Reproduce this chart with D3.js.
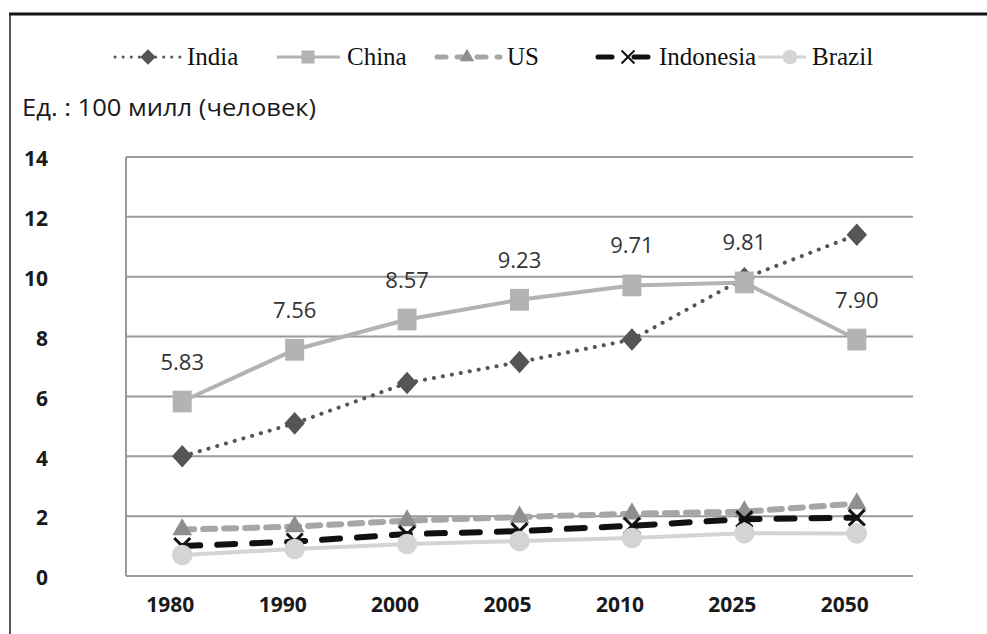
<!DOCTYPE html>
<html>
<head>
<meta charset="utf-8">
<script src="https://cdn.jsdelivr.net/npm/d3@7/dist/d3.min.js"></script>
<style>
  html, body { margin: 0; padding: 0; background: #fff; }
  svg { display: block; }
</style>
</head>
<body>
<svg id="chart" width="987" height="634"></svg>
<script>
// Population, hundreds of millions of people
const years = ["1980", "1990", "2000", "2005", "2010", "2025", "2050"];
const india = [4.0, 5.1, 6.45, 7.15, 7.9, 9.95, 11.4];
const china = [5.83, 7.56, 8.57, 9.23, 9.71, 9.81, 7.90];
const us = [1.55, 1.65, 1.85, 1.97, 2.08, 2.15, 2.42];
const indonesia = [1.0, 1.15, 1.4, 1.5, 1.68, 1.9, 1.95];
const brazil = [0.7, 0.9, 1.07, 1.17, 1.27, 1.43, 1.42];
const yTicks = [0, 2, 4, 6, 8, 10, 12, 14];
const seriesNames = ["India", "China", "US", "Indonesia", "Brazil"];
const unitLabel = "Ед. : 100 милл (человек)";

const svg = d3.select("#chart");

// outer frame: heavy top rule and thin left rule
svg.append("line").attr("x1", 9).attr("x2", 987).attr("y1", 14).attr("y2", 14)
  .attr("stroke", "#111").attr("stroke-width", 3);
svg.append("line").attr("x1", 10).attr("x2", 10).attr("y1", 13).attr("y2", 634)
  .attr("stroke", "#222").attr("stroke-width", 1.5);

const x = d3.scaleBand().domain(years).range([126, 913]).padding(0);
const cx = d => x(d) + x.bandwidth() / 2;
const y = d3.scaleLinear().domain([0, 14]).range([576, 157]);

// horizontal grid lines
svg.append("g").selectAll("line").data(yTicks).join("line")
  .attr("x1", 126).attr("x2", 913)
  .attr("y1", d => y(d)).attr("y2", d => y(d))
  .attr("stroke", "#9a9a9a").attr("stroke-width", 2);
// left edge of plot area
svg.append("line").attr("x1", 126).attr("x2", 126).attr("y1", y(14)).attr("y2", y(0))
  .attr("stroke", "#9a9a9a").attr("stroke-width", 2);

// y axis labels
const yAxis = d3.axisLeft(y).tickValues(yTicks).tickSize(0).tickPadding(0);
const gy = svg.append("g").attr("transform", "translate(48,2)").call(yAxis);
gy.select(".domain").remove();
gy.selectAll("text")
  .attr("font-family", "'Open Sans', sans-serif").attr("font-weight", "bold")
  .attr("font-size", 21).attr("fill", "#1a1a1a");

// x axis labels
const xAxis = d3.axisBottom(x).tickSize(0).tickPadding(0);
const gx = svg.append("g").attr("transform", "translate(-12,597)").call(xAxis);
gx.select(".domain").remove();
gx.selectAll("text")
  .attr("font-family", "'Open Sans', sans-serif").attr("font-weight", "bold")
  .attr("font-size", 21).attr("fill", "#1a1a1a");

// diamond drawn as a square turned 45 degrees
const squareDiamond = {
  draw(ctx, size) {
    const r = Math.sqrt(size / 2);
    ctx.moveTo(0, -r); ctx.lineTo(r, 0); ctx.lineTo(0, r); ctx.lineTo(-r, 0); ctx.closePath();
  }
};

const styles = {
  India:     { data: india,     stroke: "#555",    width: 4,   dash: "0.1 9",  cap: "round", fill: "#555",    symbol: squareDiamond,     size: 210, legendSize: 120 },
  China:     { data: china,     stroke: "#b3b3b3", width: 4,   dash: null,     cap: "butt",  fill: "#b3b3b3", symbol: d3.symbolSquare,  size: 360, legendSize: 170 },
  US:        { data: us,        stroke: "#a6a6a6", width: 6,   dash: "12 9",   cap: "round", fill: "#8f8f8f", symbol: d3.symbolTriangle, size: 170, legendSize: 90 },
  Indonesia: { data: indonesia, stroke: "#111",    width: 6,   dash: "18 17",  cap: "round", fill: "none",    symbol: d3.symbolX,       size: 170, legendSize: 110 },
  Brazil:    { data: brazil,    stroke: "#d4d4d4", width: 4,   dash: null,     cap: "butt",  fill: "#d4d4d4", symbol: d3.symbolCircle,  size: 330, legendSize: 170 }
};

const line = d3.line().x((d, i) => cx(years[i])).y(d => y(d));

function drawMarker(g, s, size) {
  const p = g.append("path").attr("d", d3.symbol().type(s.symbol).size(size)());
  if (s.symbol === d3.symbolX) {
    p.attr("fill", "none").attr("stroke", "#111").attr("stroke-width", 3);
  } else {
    p.attr("fill", s.fill);
  }
  return p;
}

seriesNames.forEach(name => {
  const s = styles[name];
  const g = svg.append("g");
  g.append("path").datum(s.data).attr("d", line)
    .attr("fill", "none").attr("stroke", s.stroke).attr("stroke-width", s.width)
    .attr("stroke-linecap", s.cap)
    .attr("stroke-dasharray", s.dash);
  s.data.forEach((v, i) => {
    const m = g.append("g").attr("transform", `translate(${cx(years[i])},${y(v)})`);
    const p = drawMarker(m, s, s.size);
    if (s.symbol === squareDiamond) p.attr("transform", "scale(1,1.1)");
    if (s.symbol === d3.symbolSquare) p.attr("transform", "scale(1,1.15)");
  });
});

// value labels above the China series
svg.append("g").selectAll("text").data(china).join("text")
  .attr("x", (d, i) => cx(years[i]))
  .attr("y", d => y(d) - 32)
  .attr("text-anchor", "middle")
  .attr("font-family", "'Open Sans', sans-serif")
  .attr("font-size", 22).attr("fill", "#333")
  .text(d => d.toFixed(2));

// legend
const legendItems = [
  { name: "India",     x0: 115, x1: 181, mx: 148, tx: 187 },
  { name: "China",     x0: 277, x1: 340, mx: 308, tx: 347 },
  { name: "US",        x0: 437, x1: 500, mx: 467, tx: 507 },
  { name: "Indonesia", x0: 598, x1: 660, mx: 628, tx: 659 },
  { name: "Brazil",    x0: 758, x1: 806, mx: 790, tx: 812 }
];
const ly = 57;
const lg = svg.append("g");
legendItems.forEach(it => {
  const s = styles[it.name];
  lg.append("line").attr("x1", it.x0).attr("x2", it.x1).attr("y1", ly).attr("y2", ly)
    .attr("stroke", s.stroke).attr("stroke-width", s.width - 1)
    .attr("stroke-linecap", s.cap)
    .attr("stroke-dasharray", it.name === "India" ? "0.1 8" : it.name === "US" ? "9 11" : it.name === "Indonesia" ? "14 22" : null);
  const m = lg.append("g").attr("transform", `translate(${it.mx},${ly})`);
  const p = drawMarker(m, s, s.legendSize);
  if (s.symbol === d3.symbolX) p.attr("stroke-width", 2);
  lg.append("text").attr("x", it.tx).attr("y", ly + 8)
    .attr("font-family", "'Liberation Serif', serif").attr("font-size", 25)
    .attr("fill", "#111").text(it.name);
});

// unit caption
svg.append("text").attr("x", 22).attr("y", 116)
  .attr("font-family", "'Open Sans', sans-serif").attr("font-size", 23)
  .attr("fill", "#1a1a1a")
  .attr("textLength", 294).attr("lengthAdjust", "spacingAndGlyphs")
  .text(unitLabel);
</script>
</body>
</html>
